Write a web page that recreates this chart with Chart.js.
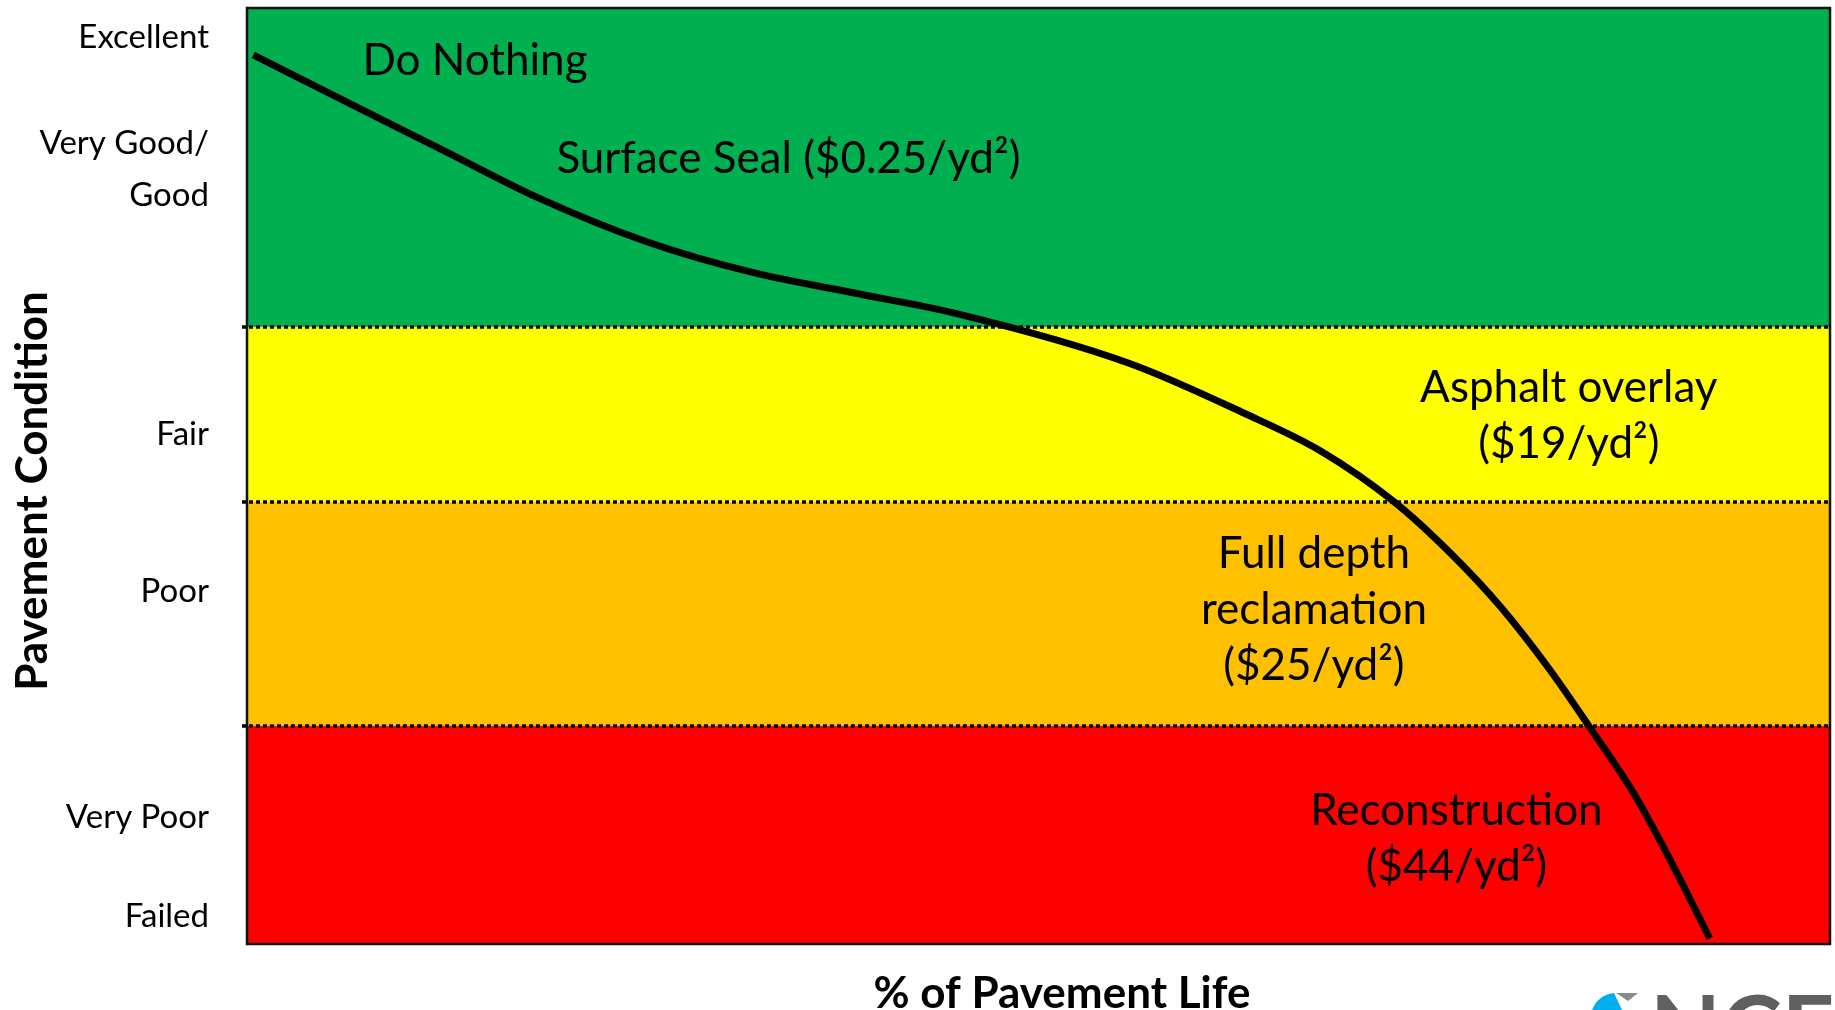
<!DOCTYPE html>
<html>
<head>
<meta charset="utf-8">
<script src="https://cdn.jsdelivr.net/npm/chart.js@4.4.1/dist/chart.umd.min.js"></script>
<style>
  html, body { margin: 0; padding: 0; background: #fff; }
</style>
</head>
<body>
<canvas id="chart" width="1835" height="1010"></canvas>
<script>
// x = % of pavement life, y = condition index (0 failed .. 100 excellent)
const lifePct = [0.4, 6.0, 12.4, 18.3, 25.3, 31.8, 38.2, 44.7, 55.8, 63.0, 67.9, 72.5, 76.0, 79.2, 82.3, 84.8, 87.6, 89.9, 92.4];
const condition = [95.0, 90.2, 84.8, 79.8, 75.0, 71.8, 69.6, 67.4, 62.0, 56.7, 52.6, 47.2, 41.8, 36.0, 29.3, 23.2, 16.1, 9.0, 0.6];

// condition bands, top to bottom
const bandTops = [100, 65.9, 47.2, 23.3];
const bandBottoms = [65.9, 47.2, 23.3, 0];
const bandColors = ['#00B050', '#FFFF00', '#FFC000', '#FF0000'];

const tickValues = [96.9, 82.8, 54.5, 37.7, 13.5, 2.9];
const tickLabels = ['Excellent', ['Very Good/', 'Good'], 'Fair', 'Poor', 'Very Poor', 'Failed'];

// treatment labels, anchored at (life %, condition) of the first baseline
const treatments = [
  ['Do Nothing'],
  ['Surface Seal ($0.25/yd²)'],
  ['Asphalt overlay', '($19/yd²)'],
  ['Full depth', 'reclamation', '($25/yd²)'],
  ['Reconstruction', '($44/yd²)']
];
const treatmentX = [14.4, 34.2, 83.5, 67.4, 76.4];
const treatmentY = [92.8, 82.4, 57.9, 40.2, 12.7];

const bandsPlugin = {
  id: 'bands',
  beforeDatasetsDraw(chart) {
    const { ctx, chartArea: a, scales: { y } } = chart;
    ctx.save();
    bandTops.forEach((top, i) => {
      const y0 = y.getPixelForValue(top);
      const y1 = y.getPixelForValue(bandBottoms[i]);
      ctx.fillStyle = bandColors[i];
      ctx.fillRect(a.left, y0, a.right - a.left, y1 - y0);
    });
    ctx.strokeStyle = '#000';
    ctx.lineWidth = 3.5;
    ctx.setLineDash([4, 3]);
    bandTops.slice(1).forEach(v => {
      const py = Math.round(y.getPixelForValue(v));
      ctx.beginPath();
      ctx.moveTo(a.left - 5, py);
      ctx.lineTo(a.right, py);
      ctx.stroke();
    });
    ctx.restore();
  },
  afterDraw(chart) {
    const { ctx, chartArea: a, scales: { x, y } } = chart;
    ctx.save();
    // frame
    ctx.strokeStyle = '#111';
    ctx.lineWidth = 2.5;
    ctx.strokeRect(a.left, a.top, a.right - a.left, a.bottom - a.top);

    // treatment notes
    ctx.fillStyle = '#000';
    ctx.font = '44px Lato';
    ctx.textAlign = 'center';
    ctx.textBaseline = 'alphabetic';
    treatments.forEach((lines, i) => {
      const cx = x.getPixelForValue(treatmentX[i]);
      const by = y.getPixelForValue(treatmentY[i]);
      lines.forEach((t, j) => ctx.fillText(t, cx, by + j * 56));
    });

    // axis titles
    ctx.font = 'bold 44px Lato';
    ctx.fillText('% of Pavement Life', 1062, 1008);
    ctx.save();
    ctx.translate(47, 491);
    ctx.rotate(-Math.PI / 2);
    ctx.fillText('Pavement Condition', 0, 0);
    ctx.restore();

    // logo corner
    ctx.fillStyle = '#00AEEF';
    ctx.beginPath();
    ctx.moveTo(1592, 1010);
    ctx.quadraticCurveTo(1598, 995, 1614, 993);
    ctx.lineTo(1622, 1010);
    ctx.closePath();
    ctx.fill();
    ctx.fillStyle = '#8a8a8a';
    ctx.beginPath();
    ctx.moveTo(1616, 993);
    ctx.lineTo(1638, 993);
    ctx.lineTo(1628, 1001);
    ctx.closePath();
    ctx.fill();
    ctx.fillStyle = '#5f6062';
    ctx.font = 'bold 92px Lato';
    ctx.textAlign = 'left';
    ctx.fillText('NCE', 1650, 1062);
    ctx.restore();
  }
};

new Chart(document.getElementById('chart'), {
  type: 'line',
  data: {
    datasets: [{
      data: lifePct.map((v, i) => ({ x: v, y: condition[i] })),
      borderColor: '#000',
      borderWidth: 7,
      pointRadius: 0,
      cubicInterpolationMode: 'monotone',
      fill: false
    }]
  },
  options: {
    responsive: false,
    animation: false,
    layout: { padding: { left: 0, right: 5, top: 8, bottom: 0 } },
    plugins: { legend: { display: false }, tooltip: { enabled: false } },
    scales: {
      x: {
        type: 'linear',
        min: 0,
        max: 100,
        ticks: { display: false },
        grid: { display: false, drawTicks: false },
        border: { display: false },
        afterFit: s => { s.height = 66; s.paddingLeft = 0; s.paddingRight = 0; }
      },
      y: {
        type: 'linear',
        min: 0,
        max: 100,
        afterBuildTicks: s => { s.ticks = tickValues.map(v => ({ value: v })); },
        afterFit: s => { s.width = 247; s.paddingTop = 0; s.paddingBottom = 0; },
        ticks: {
          autoSkip: false,
          padding: 38,
          color: '#000',
          font: { family: 'Lato', size: 33, lineHeight: 1.58 },
          callback: (v, i) => tickLabels[i]
        },
        grid: { display: false, drawTicks: false },
        border: { display: false }
      }
    }
  },
  plugins: [bandsPlugin]
});
</script>
</body>
</html>
